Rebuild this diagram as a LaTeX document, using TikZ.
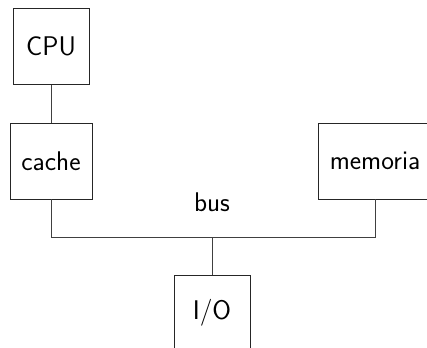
\documentclass[tikz,border=0pt]{standalone}
\usepackage{tikz}
\usetikzlibrary{positioning}

\tikzset{
  unit/.style={draw=black!85, line width=0.8pt, inner sep=11.5pt,
    minimum width=76pt, minimum height=76pt,
    font=\sffamily\fontsize{27}{32}\selectfont},
  wire/.style={draw=black!75, line width=1pt}
}

\begin{document}
\begin{tikzpicture}[x=1pt,y=-1pt,node distance=114.5pt,auto]
\useasboundingbox (0,0) rectangle (427,347);
\node[unit] (cpu) at (51,46.5) {CPU};
\node[unit] (cache) [below of=cpu] {cache};
\node[unit] (mem) [right of=cache,node distance=324pt] {memoria};
\coordinate (b) at (212,237);
\node (bus) [above of=b,node distance=35pt,font=\sffamily\fontsize{27}{32}\selectfont] {bus};
\node[unit] (io) [below of=b,node distance=76pt] {I/O};

\path[wire] (cpu) -- (cache);
\path[wire] (cache) -- (cache |- b) -- (mem |- b) -- (mem);
\path[wire] (io) -- (b);
\end{tikzpicture}
\end{document}
